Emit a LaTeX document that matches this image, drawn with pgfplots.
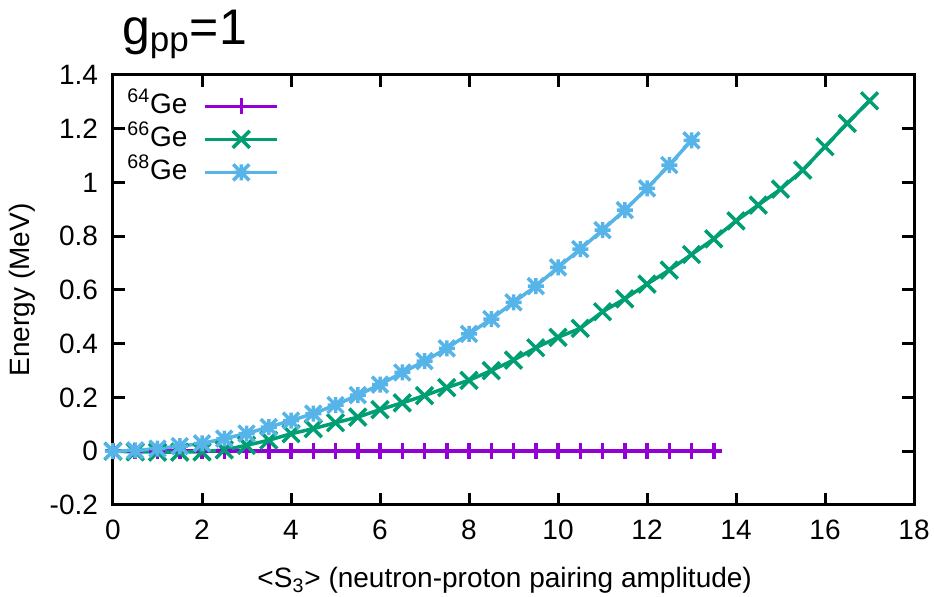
\documentclass[border=0pt]{standalone}
\usepackage{fontspec}
\setmainfont{Liberation Sans}
\usepackage{pgfplots}
\pgfplotsset{compat=1.18}
\definecolor{cA}{HTML}{9400D3}
\definecolor{cB}{HTML}{009E73}
\definecolor{cC}{HTML}{56B4E9}
\pgfdeclareplotmark{gpstar}{%
  \pgfpathmoveto{\pgfqpoint{-\pgfplotmarksize}{0pt}}\pgfpathlineto{\pgfqpoint{\pgfplotmarksize}{0pt}}%
  \pgfpathmoveto{\pgfqpoint{0pt}{-\pgfplotmarksize}}\pgfpathlineto{\pgfqpoint{0pt}{\pgfplotmarksize}}%
  \pgfpathmoveto{\pgfqpoint{-\pgfplotmarksize}{-\pgfplotmarksize}}\pgfpathlineto{\pgfqpoint{\pgfplotmarksize}{\pgfplotmarksize}}%
  \pgfpathmoveto{\pgfqpoint{-\pgfplotmarksize}{\pgfplotmarksize}}\pgfpathlineto{\pgfqpoint{\pgfplotmarksize}{-\pgfplotmarksize}}%
  \pgfusepathqstroke}
\begin{document}
\begin{tikzpicture}
\begin{axis}[
  scale only axis, width=400.5pt, height=215pt,
  xmin=0, xmax=18, ymin=-0.2, ymax=1.4,
  xtick={0,2,4,6,8,10,12,14,16,18},
  ytick={-0.2,0,0.2,0.4,0.6,0.8,1,1.2,1.4},
  /pgf/number format/assume math mode=true,
  tick label style={font=\fontsize{14}{16}\selectfont},
  xticklabel style={yshift=-4pt},
  yticklabel style={xshift=-4pt},
  label style={font=\fontsize{14}{16}\selectfont},
  axis line style={line width=1.5pt},
  tick style={line width=1.5pt, black},
  major tick length=6pt,
  tick align=inside,
  clip=false,
  xlabel={<S\textsubscript{3}> (neutron-proton pairing amplitude)},
  ylabel={Energy (MeV)},
  xlabel style={at={(axis description cs:0.489,-0.193)}, anchor=base},
  ylabel style={at={(axis description cs:-0.1136,0.5)}, anchor=center},
  title={g\textsubscript{pp}=1},
  title style={at={(axis description cs:0.0025,1.044)}, anchor=base west, font=\fontsize{25}{30}\selectfont},
  legend style={at={(axis description cs:0,1)}, anchor=north west, xshift=4pt, yshift=-6pt,
    draw=none, fill=none, font=\fontsize{14}{16}\selectfont,
    nodes={inner sep=0pt, text height=11pt, text depth=4pt}, row sep=1.5pt, column sep=8pt},
  legend cell align=left,
  legend plot pos=right,
  legend image code/.code={\draw[mark repeat=2,mark phase=2] plot coordinates {(0pt,0pt) (18pt,0pt) (36pt,0pt)};},
]
\addplot[cA, line width=1.75pt, mark=+, mark size=4pt, mark options={solid, line width=1.75pt}] coordinates {
(0,0) (0.5,0) (1,0) (1.5,0) (2,0) (2.5,0) (3,0) (3.5,0) (4,0) (4.5,0) (5,0) (5.5,0) (6,0) (6.5,0)
(7,0) (7.5,0) (8,0) (8.5,0) (9,0) (9.5,0) (10,0) (10.5,0) (11,0) (11.5,0) (12,0) (12.5,0) (13,0) (13.5,0)};
\addlegendentry{\textsuperscript{64}Ge}
\addplot[cB, line width=1.75pt, mark=x, mark size=6pt, mark options={solid, line width=1.75pt}] coordinates {
(0,0) (0.5,-0.002) (1,-0.003) (1.5,-0.003) (2,-0.002) (2.5,0.005) (3,0.022) (3.5,0.041) (4,0.065)
(4.5,0.084) (5,0.106) (5.5,0.127) (6,0.155) (6.5,0.18) (7,0.207) (7.5,0.237) (8,0.264) (8.5,0.3)
(9,0.339) (9.5,0.385) (10,0.424) (10.5,0.457) (11,0.519) (11.5,0.567) (12,0.622) (12.5,0.674)
(13,0.732) (13.5,0.79) (14,0.857) (14.5,0.916) (15,0.975) (15.5,1.046) (16,1.133) (16.5,1.22) (17,1.304)};
\addlegendentry{\textsuperscript{66}Ge}
\addplot[cC, line width=1.75pt, mark=gpstar, mark size=4pt, mark options={solid, line width=1.75pt}] coordinates {
(0,0) (0.5,0.003) (1,0.01) (1.5,0.019) (2,0.029) (2.5,0.047) (3,0.066) (3.5,0.09) (4,0.114)
(4.5,0.14) (5,0.172) (5.5,0.209) (6,0.248) (6.5,0.293) (7,0.335) (7.5,0.383) (8,0.437) (8.5,0.492)
(9,0.554) (9.5,0.614) (10,0.684) (10.5,0.752) (11,0.823) (11.5,0.897) (12,0.978) (12.5,1.065) (13,1.157)};
\addlegendentry{\textsuperscript{68}Ge}
\coordinate (bl) at (rel axis cs:0,0);
\coordinate (tr) at (rel axis cs:1,1);
\end{axis}
\pgfresetboundingbox
\path[use as bounding box] ([shift={(-56.5pt,-46pt)}]bl) rectangle ([shift={(10.5pt,37.5pt)}]tr);
\end{tikzpicture}
\end{document}
